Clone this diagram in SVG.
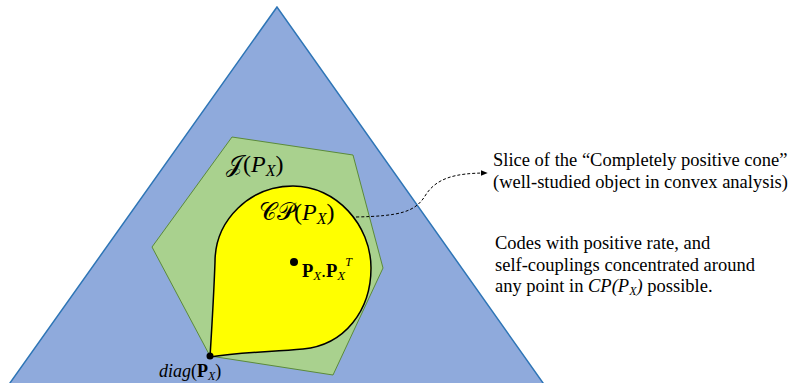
<svg xmlns="http://www.w3.org/2000/svg" width="794" height="383" viewBox="0 0 794 383">
<style>
.m{font-family:"Liberation Serif","DejaVu Serif",serif;fill:#000}
.i{font-style:italic}
.b{font-weight:bold}
.t{font-family:"Liberation Serif","Times New Roman",serif;font-size:18.5px;fill:#000}
</style>
<defs>
<marker id="ah" viewBox="0 0 10 10" refX="9" refY="5" markerWidth="7" markerHeight="7" orient="auto" markerUnits="userSpaceOnUse">
<path d="M0,1 L10,5 L0,9 Z" fill="#000"/>
</marker>
</defs>
<rect width="794" height="383" fill="#fff"/>
<g id="cone">
<polygon points="277,7 5,390 548,390" fill="#8faadc" stroke="#2e75b6" stroke-width="1.5"/>
</g>
<g id="jpx">
<polygon points="232,137 353,155 383,268 333,375 210,356 152,247" fill="#a9d18e" stroke="#5b8a3a" stroke-width="1"/>
<text class="m" x="226" y="172" font-size="24">𝒥(<tspan class="i">P</tspan><tspan class="i" font-size="16" dy="4">X</tspan><tspan dy="-4">)</tspan></text>
</g>
<g id="cpx">
<path d="M210,357 C212,325 214,290 215,262 C215,220 250,186 293,186 C336,186 371,225 371,268 C371,310 345,345 303,349 C270,352 240,352 210,357 Z" fill="#ffff00" stroke="#000" stroke-width="1.5"/>
<text class="m" x="259" y="220" font-size="24">𝒞𝒫(<tspan class="i">P</tspan><tspan class="i" font-size="16" dy="4">X</tspan><tspan dy="-4">)</tspan></text>
</g>
<g id="pxpx">
<circle cx="294" cy="262" r="4" fill="#000"/>
<text class="m" x="302" y="277" font-size="18.5"><tspan class="b">P</tspan><tspan class="i" font-size="13" dy="3">X</tspan><tspan dy="-3">.</tspan><tspan class="b">P</tspan><tspan class="i" font-size="13" dy="3">X</tspan><tspan class="i" font-size="12" dy="-14">T</tspan></text>
</g>
<g id="diag">
<circle cx="210" cy="356" r="3.5" fill="#000"/>
<text class="m" x="159" y="377" font-size="18"><tspan class="i">diag</tspan>(<tspan class="b">P</tspan><tspan class="i" font-size="12" dy="3">X</tspan><tspan dy="-3">)</tspan></text>
</g>
<g id="connectors">
<path d="M356,217 C400,216 415,212 425,196 C436,178 455,173 487,173" fill="none" stroke="#000" stroke-width="1" stroke-dasharray="3,2" marker-end="url(#ah)"/>
</g>
<g id="note1">
<text class="t" x="493" y="166">Slice of the “Completely positive cone”</text>
<text class="t" x="493" y="188">(well-studied object in convex analysis)</text>
</g>
<g id="note2">
<text class="t" x="495" y="249">Codes with positive rate, and</text>
<text class="t" x="495" y="271">self-couplings concentrated around</text>
<text class="t" x="495" y="292">any point in <tspan font-style="italic">CP(P<tspan font-size="12" dy="3">X</tspan><tspan dy="-3">)</tspan></tspan> possible.</text>
</g>
</svg>
